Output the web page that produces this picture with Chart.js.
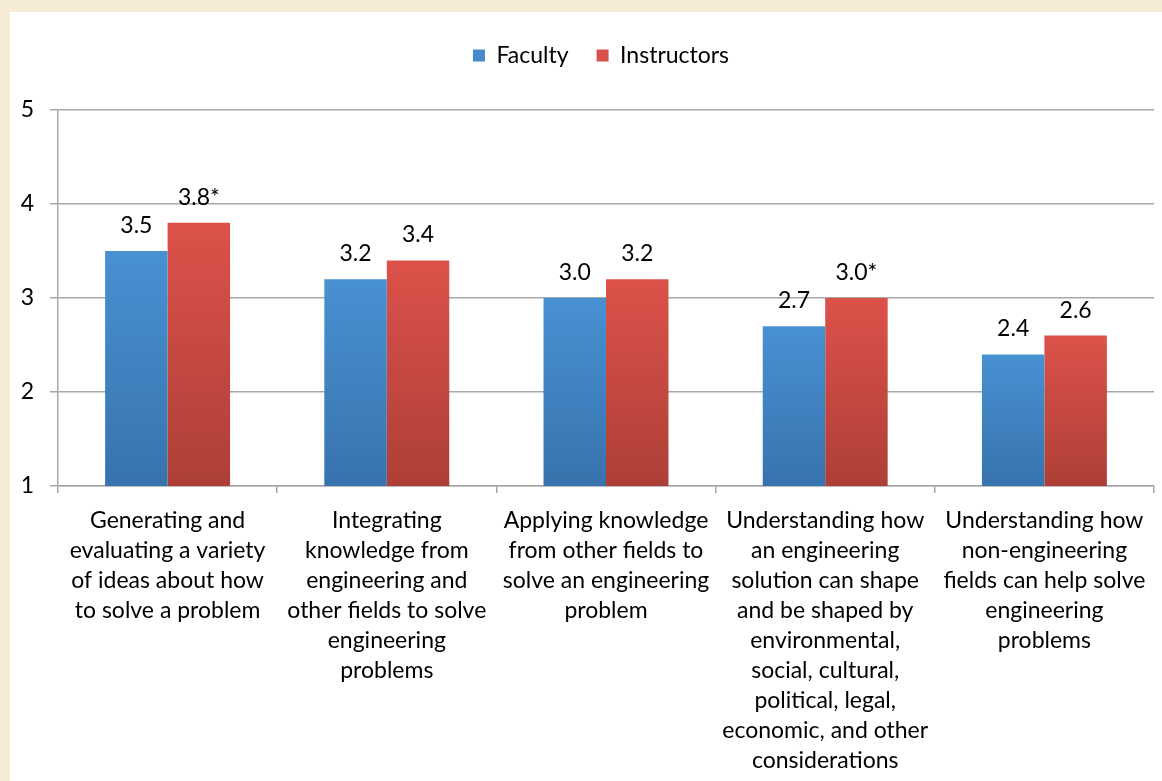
<!DOCTYPE html>
<html>
<head>
<meta charset="utf-8">
<script src="https://cdn.jsdelivr.net/npm/chart.js@4.4.1/dist/chart.umd.min.js"></script>
<style>
  html, body { margin: 0; padding: 0; background: #f6ecd6; }
  body { width: 1162px; height: 781px; position: relative; overflow: hidden; }
  #wrap { position: absolute; left: 10px; top: 12px; width: 1152px; height: 769px; background: #ffffff; }
</style>
</head>
<body>
<div id="wrap"><canvas id="chart"></canvas></div>
<script>
// categories (multi-line, as in the picture)
const categories = [
    ['Generating and', 'evaluating a variety', 'of ideas about how', 'to solve a problem'],
    ['Integrating', 'knowledge from', 'engineering and', 'other fields to solve', 'engineering', 'problems'],
    ['Applying knowledge', 'from other fields to', 'solve an engineering', 'problem'],
    ['Understanding how', 'an engineering', 'solution can shape', 'and be shaped by', 'environmental,', 'social, cultural,', 'political, legal,', 'economic, and other', 'considerations'],
    ['Understanding how', 'non-engineering', 'fields can help solve', 'engineering', 'problems']
];
const facultyValues = [3.5, 3.2, 3.0, 2.7, 2.4];
const instructorValues = [3.8, 3.4, 3.2, 3.0, 2.6];
const facultyLabels = ['3.5', '3.2', '3.0', '2.7', '2.4'];
const instructorLabels = ['3.8*', '3.4', '3.2', '3.0*', '2.6'];
const yTicks = [1, 2, 3, 4, 5];

const FONT = 'Lato, "Open Sans", sans-serif';
const FSIZE = 23;

function barGradient(top, bottom) {
    return function(ctx) {
        const chart = ctx.chart;
        const area = chart.chartArea;
        if (!area || !chart.scales.y) return top;
        const y0 = chart.scales.y.getPixelForValue(ctx.raw);
        const g = chart.ctx.createLinearGradient(0, y0, 0, area.bottom);
        g.addColorStop(0, top);
        g.addColorStop(1, bottom);
        return g;
    };
}

const valueLabels = {
    id: 'valueLabels',
    afterDatasetsDraw: function(chart) {
        const ctx = chart.ctx;
        const texts = [facultyLabels, instructorLabels];
        ctx.save();
        ctx.font = FSIZE + 'px ' + FONT;
        ctx.fillStyle = '#000';
        ctx.textAlign = 'center';
        ctx.textBaseline = 'alphabetic';
        chart.data.datasets.forEach(function(ds, i) {
            chart.getDatasetMeta(i).data.forEach(function(bar, j) {
                ctx.fillText(texts[i][j], bar.x, bar.y - 18);
            });
        });
        ctx.restore();
    }
};

// legend box taller, and nudged to where it sits in the picture
const legendSpace = {
    id: 'legendSpace',
    beforeInit: function(chart) {
        const fit = chart.legend.fit;
        chart.legend.fit = function() {
            fit.call(this);
            this.height = 86;
        };
    },
    afterLayout: function(chart) {
        chart.legend.left += 19;
        chart.legend.right += 19;
        chart.legend.top -= 8;
    }
};

const chart = new Chart(document.getElementById('chart'), {
    type: 'bar',
    data: {
        labels: categories,
        datasets: [{
            label: 'Faculty',
            data: facultyValues,
            backgroundColor: barGradient('#4891d2', '#3773ad'),
            borderWidth: 0
        }, {
            label: 'Instructors',
            data: instructorValues,
            backgroundColor: barGradient('#dc524a', '#ad3f37'),
            borderWidth: 0
        }]
    },
    options: {
        responsive: true,
        maintainAspectRatio: false,
        animation: false,
        layout: { padding: { top: 12, right: 8, bottom: 0, left: 0 } },
        datasets: { bar: { barPercentage: 1, categoryPercentage: 0.57 } },
        plugins: {
            tooltip: { enabled: false },
            legend: {
                position: 'top',
                labels: {
                    boxWidth: 12,
                    boxHeight: 12,
                    padding: 28,
                    color: '#000',
                    font: { family: FONT, size: FSIZE },
                    generateLabels: function(chart) {
                        const cols = ['#4489cb', '#d9504a'];
                        return chart.data.datasets.map(function(ds, i) {
                            return { text: ds.label, fillStyle: cols[i], strokeStyle: cols[i], lineWidth: 0, datasetIndex: i };
                        });
                    }
                }
            }
        },
        scales: {
            x: {
                grid: { display: true, drawOnChartArea: false, drawTicks: true, tickLength: 7, color: '#a8a8a8', lineWidth: 1.5, offset: true },
                border: { display: true, color: '#a8a8a8', width: 1.5 },
                ticks: {
                    color: '#000',
                    padding: 13,
                    maxRotation: 0,
                    autoSkip: false,
                    font: { family: FONT, size: FSIZE, lineHeight: 1.3 }
                },
                afterFit: function(scale) { scale.height = 295; }
            },
            y: {
                min: 1,
                max: 5,
                afterBuildTicks: function(scale) {
                    scale.ticks = yTicks.map(function(v) { return { value: v }; });
                },
                grid: { color: '#a8a8a8', lineWidth: 1.5, tickLength: 8 },
                border: { display: true, color: '#a8a8a8', width: 1.5 },
                ticks: {
                    color: '#000',
                    padding: 16,
                    font: { family: FONT, size: FSIZE }
                },
                afterFit: function(scale) { scale.width = 48; }
            }
        }
    },
    plugins: [legendSpace, valueLabels]
});
</script>
</body>
</html>
